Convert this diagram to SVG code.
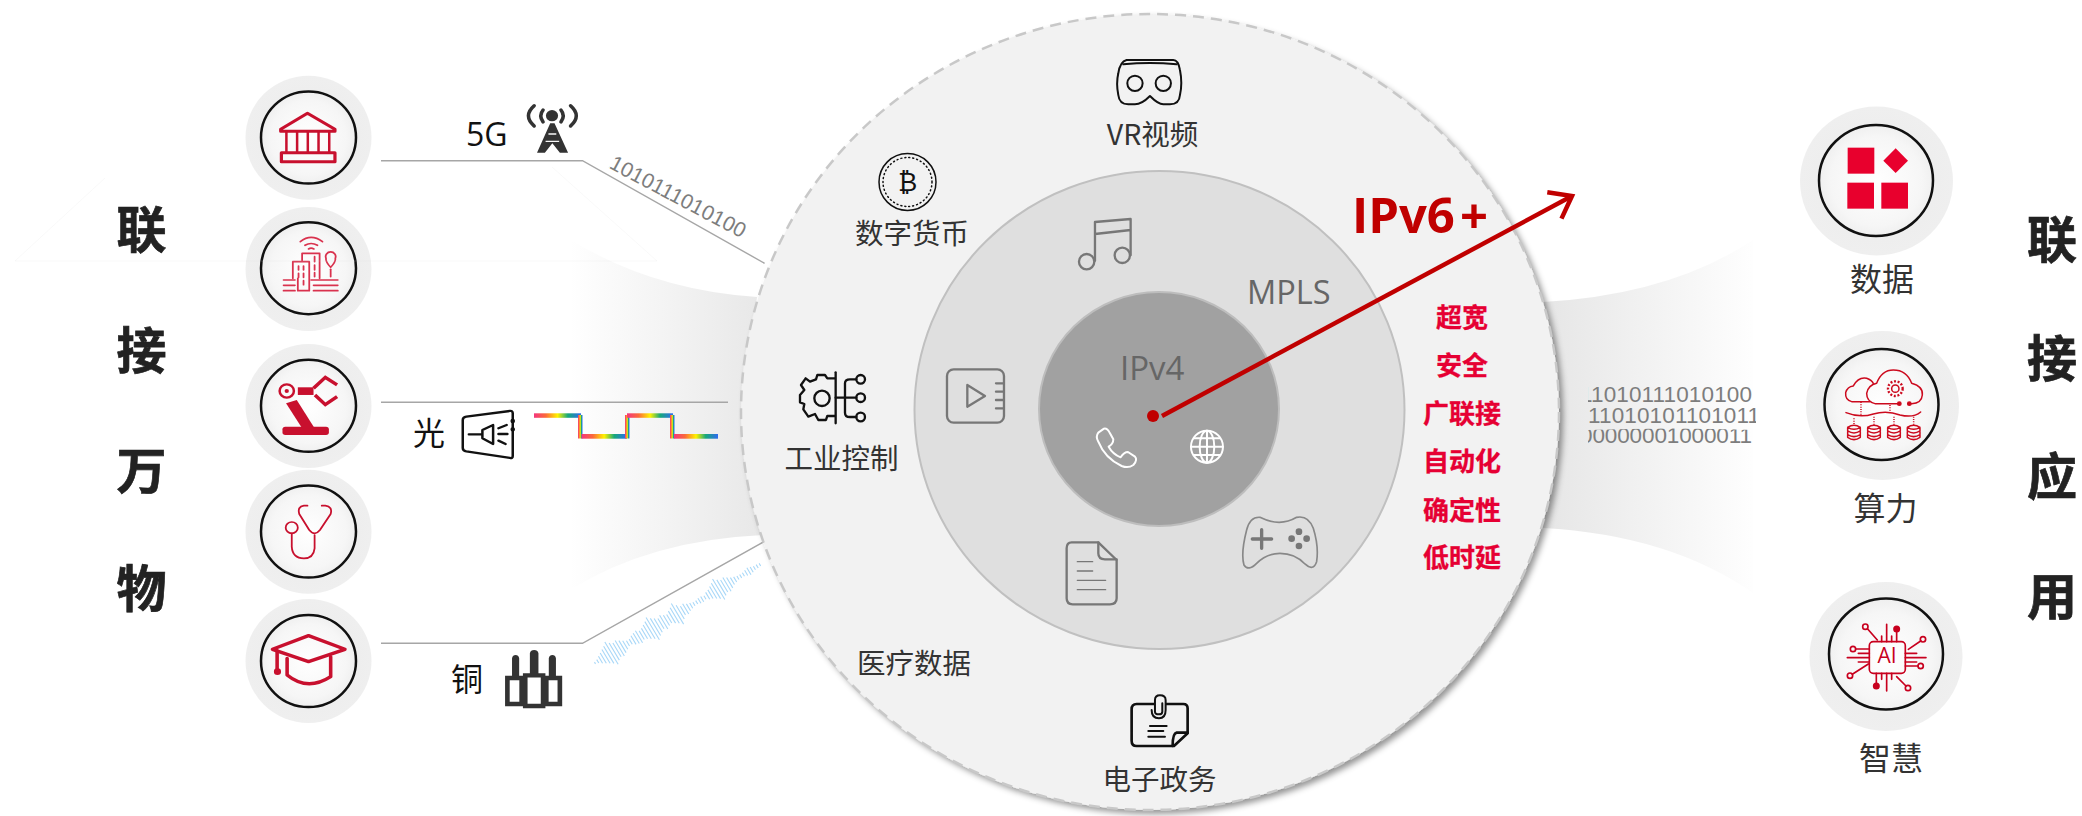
<svg xmlns="http://www.w3.org/2000/svg" width="2082" height="816" viewBox="0 0 2082 816">
<style>
text{font-family:"Noto Sans CJK SC","Noto Sans",sans-serif}
.lat{font-family:"Open Sans","Noto Sans CJK SC",sans-serif}
.big{font-size:50px;font-weight:700;fill:#222;stroke:#222;stroke-width:.7;text-anchor:middle}
.lb{font-size:28.5px;fill:#333;text-anchor:middle}
.rl{font-size:32px;fill:#333;text-anchor:middle}
.fe{font-size:26px;font-weight:700;fill:#e60033;stroke:#e60033;stroke-width:.3;text-anchor:middle}
.bin{font-family:"Liberation Sans",sans-serif;fill:#7d7d7d}
.halo{stroke:none}
.ring{fill:none;stroke:#111;stroke-width:2.5}
.conn{fill:none;stroke:#a6a6a6;stroke-width:1.4}
.ic{fill:none;stroke-linecap:round;stroke-linejoin:round}
.red{stroke:#c8102e}
.gr{stroke:#777}
.bk{stroke:#111}
.wave{fill:none;stroke:#a9d8f8;stroke-width:1.1}
</style>
<defs>
<radialGradient id="haloG"><stop offset="0" stop-color="#fff"/><stop offset="0.6" stop-color="#f6f6f6"/><stop offset="0.78" stop-color="#eeeeee"/><stop offset="1" stop-color="#efefef"/></radialGradient>
<linearGradient id="bandL" x1="570" x2="760" y1="0" y2="0" gradientUnits="userSpaceOnUse"><stop offset="0" stop-color="#fff"/><stop offset="1" stop-color="#e8e8e8"/></linearGradient>
<linearGradient id="bandR" x1="1545" x2="1760" y1="0" y2="0" gradientUnits="userSpaceOnUse"><stop offset="0" stop-color="#e6e6e6"/><stop offset="1" stop-color="#fff"/></linearGradient>
<linearGradient id="rb"><stop offset="0" stop-color="#f4367e"/><stop offset="0.25" stop-color="#fb6a3a"/><stop offset="0.5" stop-color="#fff200"/><stop offset="0.72" stop-color="#16a97a"/><stop offset="1" stop-color="#2f6bf0"/></linearGradient>
<filter id="sh" x="-5%" y="-5%" width="110%" height="110%"><feDropShadow dx="4" dy="4" stdDeviation="3" flood-color="#000" flood-opacity="0.42"/></filter>
<marker id="arr" markerUnits="userSpaceOnUse" markerWidth="30" markerHeight="40" refX="25" refY="20" orient="auto" overflow="visible"><path d="M5,5 L25,20 L5,35" fill="none" stroke="#c00000" stroke-width="4.5"/></marker>
<clipPath id="binC"><rect x="1588" y="382" width="168" height="44"/></clipPath>
<clipPath id="binC3"><path d="M1588,430 Q1670,427 1756,430 V446 H1588 Z"/></clipPath>
<clipPath id="binT"><rect x="2" y="-20" width="150" height="30"/></clipPath>
</defs>
<rect width="2082" height="816" fill="#fff"/>
<path id="bandLeft" d="M566,237 Q650,290 757,297 Q735,415 763,535 Q650,540 570,590 Z" fill="url(#bandL)"/>
<path id="bandRight" d="M1543,302 Q1670,295 1753,240 L1753,593 Q1670,535 1543,528 Z" fill="url(#bandR)"/>

<g id="connectors">
<path class="conn" d="M381,160.7 H582.5 L764.6,263.3"/>
<path class="conn" d="M381,402.3 H728"/>
<path class="conn" d="M381,643.3 H582.5 L764,541.7"/>
</g>

<g id="signals">
<g transform="translate(607,167) rotate(28)" clip-path="url(#binT)"><text class="bin" x="-9" y="0" font-size="21" textLength="161">11010111010100</text></g>
<g clip-path="url(#binC)">
<text class="bin" x="1580" y="402" font-size="22.5" textLength="172">11010111010100</text>
<text class="bin" x="1588" y="423" font-size="22.5" textLength="172">11010101101011</text>
</g>
<g clip-path="url(#binC3)"><text class="bin" x="1580" y="443" font-size="22.5" textLength="172">00000001000011</text></g>
<g id="rainbow" fill="url(#rb)">
<rect x="534" y="413.3" width="47" height="4.5"/><rect x="578" y="415" width="4.5" height="23.5"/><rect x="581.5" y="434" width="45.5" height="4.7"/><rect x="625" y="415" width="4.5" height="23.5"/><rect x="627" y="413.3" width="46" height="4.5"/><rect x="670" y="415" width="4.5" height="23.5"/><rect x="674" y="434" width="44" height="4.7"/>
</g>
<path transform="translate(595,663) rotate(-30.8)" class="wave" d="M0,-1V1M3.2,-2V2M6.4,-4V4M9.6,-6V6M12.8,-8V8M16,-10V10M19.2,-13V13M22.4,-10V10M25.6,-8V8M28.8,-9V9M32,-7V7M35.2,-5V5M38.4,-3V3M41.6,-3V3M44.8,-5V5M48,-6V6M51.2,-7V7M54.4,-5V5M57.6,-6V6M60.8,-8V8M64,-10V10M67.2,-13V13M70.4,-10V10M73.6,-8V8M76.8,-6V6M80,-8V8M83.2,-6V6M86.4,-5V5M89.6,-7V7M92.8,-9V9M96,-12V12M99.2,-8V8M102.4,-5V5M105.6,-6V6M108.8,-4V4M112,-3V3M115.2,-2V2M118.4,-2V2M121.6,-3V3M124.8,-3V3M128,-2V2M131.2,-4V4M134.4,-5V5M137.6,-7V7M140.8,-9V9M144,-12V12M147.2,-9V9M150.4,-7V7M153.6,-8V8M156.8,-6V6M160,-4V4M163.2,-3V3M166.4,-2V2M169.6,-2V2M172.8,-2V2M176,-3V3M179.2,-4V4M182.4,-3V3M185.6,-2V2M188.8,-2V2M192,-1.5V1.5"/>
</g>

<g id="left-nodes">
<g id="node-bank"><ellipse class="halo" cx="308.5" cy="137.7" rx="63" ry="62" fill="url(#haloG)"/><ellipse class="ring" cx="308.5" cy="137.5" rx="47.5" ry="46"/>
<g transform="translate(220,60) scale(.357,.3333)" class="ic red" stroke-width="9"><path d="M170,208 L245,160 L322,208 V214 H170 Z"/><path d="M186,214V275M216,214V275M246,214V275M276,214V275M306,214V275" stroke-width="7"/><path d="M172,278 H322 V305 H172 Z"/></g></g>
<g id="node-city"><ellipse class="halo" cx="308.5" cy="269" rx="63" ry="62" fill="url(#haloG)"/><ellipse class="ring" cx="308.5" cy="268.2" rx="47.5" ry="46"/>
<g transform="translate(220,60) scale(.357,.3333)" class="ic" stroke="#d9324e" stroke-width="5"><path d="M225,545 Q255,520 287,545M238,556 Q255,545 273,556M248,567 Q255,562 263,567"/><path d="M230,603 V580 H279 V655"/><path d="M204,655 V605 H250 V692 H218 V655"/><path d="M220,618V630M234,618V630M220,640V652M234,640V652M234,662V674M265,590V605M265,615V630M265,638V650" /><path d="M310,622 Q295,605 297,595 A14,14 0 1 1 323,595 Q325,605 310,622 Z"/><path d="M310,628V650"/><path d="M178,660H210M178,676H210M178,692H210M255,660H330M262,676H330M262,692H330"/></g></g>
<g id="node-robot"><ellipse class="halo" cx="308.5" cy="406" rx="63" ry="62" fill="url(#haloG)"/><ellipse class="ring" cx="308.5" cy="405.8" rx="47.5" ry="46"/>
<g transform="translate(220,60) scale(.357,.3333)" fill="#c8102e"><rect x="175" y="1100" width="130" height="25" rx="8"/><path d="M185,1030 L215,1020 L265,1105 L230,1105 Z"/><circle cx="187" cy="993" r="20" fill="none" stroke="#c8102e" stroke-width="7"/><circle cx="187" cy="993" r="6"/><path d="M218,982 H262 V1005 H218 Z"/><path d="M262,985 L295,952 L328,975M266,1005 L295,1034 L328,1010" fill="none" stroke="#c8102e" stroke-width="10"/></g></g>
<g id="node-medical"><ellipse class="halo" cx="308.5" cy="531.7" rx="63" ry="62" fill="url(#haloG)"/><ellipse class="ring" cx="308.5" cy="531.5" rx="47.5" ry="46"/>
<g transform="translate(220,440) scale(.357,.3333)" class="ic red" stroke-width="5"><path d="M245,197 H235 Q216,200 222,222 L250,270 Q265,290 280,270 L310,222 Q316,200 295,197 H285"/><path d="M265,285 V325 Q262,355 235,355 Q203,355 201,320 V280"/><circle cx="201" cy="263" r="17"/></g></g>
<g id="node-edu"><ellipse class="halo" cx="308.5" cy="661" rx="63" ry="62" fill="url(#haloG)"/><ellipse class="ring" cx="308.5" cy="661" rx="47.5" ry="46"/>
<g transform="translate(220,440) scale(.357,.3333)" class="ic red" stroke-width="10"><path d="M147,628 L248,587 L350,628 L248,665 Z"/><path d="M188,655 V705 Q245,755 310,710 V650"/><path d="M160,632 V695"/><circle cx="161" cy="695" r="5"/></g></g>
</g>

<g id="access-labels">
<text class="lat" x="466" y="146" font-size="32" fill="#111">5G</text>
<g id="icon-tower" transform="translate(220,60) scale(.357,.3333)"><circle cx="930" cy="167" r="17" fill="#333"/><path d="M905,150 Q892,167 905,186M955,150 Q968,167 955,186M880,137 Q848,167 880,198M982,137 Q1014,167 982,198" fill="none" stroke="#333" stroke-width="10" stroke-linecap="round"/><path d="M925,190 H937 L975,278 H952 L931,250 L910,278 H888 Z" fill="#333"/><path d="M920,222 H942M912,244 H950" stroke="#f8f8f8" stroke-width="4"/></g>
<text x="413" y="445" font-size="32" fill="#111">光</text>
<g id="icon-optical" transform="translate(220,60) scale(.357,.3333)" class="ic bk" stroke-width="7"><path d="M680,1080 Q680,1072 690,1070 L812,1053 Q820,1052 820,1060 V1188 Q820,1196 812,1194 L690,1174 Q680,1172 680,1164 Z"/><path d="M697,1123 H735M735,1110 L765,1095 V1152 L735,1135 Z M780,1105 L803,1095M780,1122 H805M780,1142 L800,1152"/><circle cx="820" cy="1083" r="3"/><circle cx="820" cy="1108" r="3"/></g>
<text x="451" y="691" font-size="32" fill="#111">铜</text>
<g id="icon-copper" transform="translate(220,440) scale(.357,.3333)"><path fill="none" stroke="#333" stroke-width="13" d="M805,714 H845 V792 H805 Z M855,706 H905 V798 H855 Z M914,714 H952 V792 H914 Z"/><path fill="#333" d="M818,712 V655 Q820,645 828,645 Q836,645 838,655 V712 Z M868,705 V640 Q870,630 880,630 Q890,630 892,640 V705 Z M921,712 V655 Q923,645 931,645 Q939,645 941,655 V712 Z"/></g>
</g>

<g id="outer-ring"><ellipse cx="1150" cy="412" rx="409" ry="398" fill="#f2f2f2" filter="url(#sh)"/><ellipse cx="1150" cy="412" rx="409" ry="398" fill="none" stroke="#c8c8c8" stroke-width="2.5" stroke-dasharray="11 7"/></g>
<g id="middle-ring"><ellipse cx="1159.5" cy="410" rx="245" ry="239" fill="#dfdfdf" stroke="#c0c0c0" stroke-width="2"/></g>
<g id="inner-ring"><ellipse cx="1159" cy="409" rx="120" ry="117" fill="#a1a1a1" stroke="#bdbdbd" stroke-width="2"/></g>

<g id="outer-apps">
<g id="app-vr"><g transform="translate(780,20) scale(.3333)" class="ic bk" stroke-width="6"><path d="M1040,120 H1180 Q1195,120 1200,150 Q1208,190 1200,225 Q1198,253 1170,253 H1150 Q1135,253 1110,228 Q1085,253 1065,253 H1045 Q1018,253 1015,225 Q1008,190 1015,160 Q1020,125 1040,120 Z"/><path d="M1030,133 Q1110,125 1190,133"/><circle cx="1065" cy="190" r="23"/><circle cx="1150" cy="190" r="23"/></g><text class="lb" x="1152.5" y="145">VR视频</text></g>
<g id="app-coin"><circle cx="907.5" cy="182" r="28.5" fill="none" stroke="#111" stroke-width="1.5"/><circle cx="907.5" cy="182" r="24.5" fill="none" stroke="#111" stroke-width="1.5" stroke-dasharray="1 3" stroke-linecap="round"/><text x="907.5" y="191" font-size="26" text-anchor="middle" style="font-family:'DejaVu Sans',sans-serif" fill="#111">₿</text><text class="lb" x="912" y="244">数字货币</text></g>
<g id="app-industry"><g transform="translate(740,340) scale(.3333)" class="ic bk" stroke-width="7"><circle cx="246" cy="175" r="23"/><path d="M285,115 H262 L255,105 H232 L228,118 L210,125 L197,115 L183,135 L193,150 L180,165 V187 L193,192 L190,208 L205,230 L225,222 L235,240 H258 L262,228 H285"/><path d="M287,97 V250"/><path d="M287,173 H349M315,173 V130 Q315,118 330,118 H349M315,173 V218 Q315,231 330,231 H349"/><circle cx="362" cy="118" r="13"/><circle cx="362" cy="173" r="13"/><circle cx="362" cy="231" r="13"/></g><text class="lb" x="841.5" y="469">工业控制</text></g>
<g id="app-medical"><text class="lb" x="914" y="674">医疗数据</text></g>
<g id="app-gov"><g transform="translate(820,620) scale(.3333)" class="ic bk" stroke-width="8"><path d="M950,252 H1090 Q1103,252 1103,265 V340 L1062,378 H950 Q935,378 935,362 V268 Q935,252 950,252 Z" /><path d="M1103,338 H1070 Q1058,340 1058,378"/><path d="M995,270 Q995,295 1017,295 Q1037,295 1037,270 V240 Q1037,226 1020,226 Q1005,226 1005,240 V275 Q1005,283 1017,283 Q1027,283 1027,275 V250" stroke-width="6" fill="#f2f2f2"/><path d="M990,318 H1040M985,333 H1030M985,350 H1035" stroke-width="6"/></g><text class="lb" x="1159.5" y="790">电子政务</text></g>
</g>

<g id="middle-apps">
<g id="app-music" transform="translate(780,20) scale(.3333)" class="ic gr" stroke-width="7"><circle cx="920" cy="725" r="23"/><circle cx="1027" cy="706" r="23"/><path d="M945,722 V606 L1052,597 V706M945,642 L1052,630"/></g>
<g id="app-video" transform="translate(920,340) scale(.3333)" class="ic gr" stroke-width="7"><rect x="81" y="88" width="171" height="160" rx="20"/><path d="M142,135 L195,168 L142,200 Z"/><path d="M228,130H250M228,155H250M228,180H250M228,205H250"/></g>
<g id="app-doc" transform="translate(920,340) scale(.3333)" class="ic gr" stroke-width="7"><path d="M455,607 H535 L590,660 V775 Q590,793 570,793 H458 Q440,793 440,775 V625 Q440,607 455,607 Z"/><path d="M535,607 V640 Q535,658 555,658 H590"/><path d="M472,665H518M472,693H518M472,721H557M472,749H557" stroke-width="4"/></g>
<g id="app-game" transform="translate(920,340) scale(.3333)"><path class="ic" stroke="#888" stroke-width="5" d="M1020,532 Q990,530 980,570 Q962,640 972,675 Q985,695 1010,670 Q1040,640 1080,640 Q1125,640 1155,672 Q1180,695 1190,665 Q1197,620 1180,565 Q1165,525 1130,532 Q1080,562 1020,532 Z"/><path d="M997,597 H1055M1025,569 V625" stroke="#777" stroke-width="10" stroke-linecap="round"/><g fill="#777"><circle cx="1137" cy="575" r="10"/><circle cx="1137" cy="618" r="10"/><circle cx="1115" cy="596" r="10"/><circle cx="1160" cy="596" r="10"/></g></g>
</g>

<g id="core-apps">
<g id="app-phone" transform="translate(920,340) scale(.3333)"><path class="ic" stroke="#fff" stroke-width="6" d="M535,278 L552,266 Q562,264 570,280 L580,298 Q580,312 566,320 Q578,342 602,352 Q612,336 624,336 L645,350 Q654,360 640,375 Q625,386 605,378 Q555,355 535,305 Q526,290 535,278 Z"/></g>
<g id="app-web" transform="translate(920,340) scale(.3333)" class="ic" stroke="#fff" stroke-width="6"><circle cx="861" cy="320" r="48"/><ellipse cx="861" cy="320" rx="22" ry="48"/><path d="M861,272 V368M814,320 H908M822,295 H900M822,345 H900"/></g>
</g>

<text class="lat" x="1352" y="233" font-size="49" font-weight="700" fill="#c00000">IPv6<tspan dx="5">+</tspan></text>
<text class="lat" x="1247" y="304" font-size="32.5" fill="#666">MPLS</text>
<text class="lat" x="1120" y="380" font-size="33" fill="#666">IPv4</text>

<g id="arrow-connector">
<circle cx="1153" cy="416" r="6" fill="#c00000"/>
<path d="M1162,416 L1572,196" fill="none" stroke="#c00000" stroke-width="4.5" marker-end="url(#arr)"/>
</g>

<g id="features">
<text class="fe" x="1462" y="327">超宽</text>
<text class="fe" x="1462" y="375">安全</text>
<text class="fe" x="1462" y="423">广联接</text>
<text class="fe" x="1462" y="471">自动化</text>
<text class="fe" x="1462" y="520">确定性</text>
<text class="fe" x="1462" y="567">低时延</text>
</g>

<g id="right-nodes">
<g id="node-data"><ellipse class="halo" cx="1876.5" cy="181" rx="76.5" ry="74.5" fill="url(#haloG)"/><ellipse class="ring" cx="1876" cy="180.5" rx="57" ry="55.5"/>
<g transform="translate(1760,90) scale(.3333)" fill="#e8002d"><rect x="263" y="173" width="80" height="78"/><rect x="262" y="278" width="80" height="78"/><rect x="364" y="278" width="80" height="78"/><path d="M407,175 L444,212 L407,249 L370,212 Z"/></g><text class="rl" x="1882" y="291">数据</text></g>
<g id="node-compute"><ellipse class="halo" cx="1882.5" cy="405.5" rx="76.5" ry="74.5" fill="url(#haloG)"/><ellipse class="ring" cx="1881.5" cy="404.5" rx="57" ry="55.5"/>
<g transform="translate(1760,90) scale(.3333)" class="ic" stroke="#cc0a1e" stroke-width="4.5"><path d="M330,935 H275 Q255,930 257,908 Q262,890 280,888 Q295,860 320,865 Q335,870 340,880"/><path d="M415,941 H345 Q320,935 320,910 Q325,885 350,880 Q365,840 400,840 Q440,840 455,880 Q490,890 487,915 Q485,940 455,941 H445"/><circle cx="418" cy="941" r="5" fill="#cc0a1e"/><circle cx="448" cy="941" r="5" fill="#cc0a1e"/><circle cx="406" cy="896" r="11"/><circle cx="406" cy="896" r="22" stroke-width="7" stroke-dasharray="6 5" stroke-linecap="butt"/><path d="M258,968 Q300,985 340,972 Q380,960 420,975 Q460,985 482,966"/><path stroke-dasharray="3 4" stroke-linecap="butt" d="M303,936V978M390,945V968M282,985V1005M342,980V1005M402,980V1005M461,980V1005"/><g id="db"><path d="M263,1012 Q282,1000 301,1012 V1042 Q282,1056 263,1042 Z M263,1012 Q282,1024 301,1012M263,1023 Q282,1035 301,1023M263,1034 Q282,1046 301,1034"/></g><use href="#db" x="60"/><use href="#db" x="120"/><use href="#db" x="179"/></g><text class="rl" x="1885.5" y="520">算力</text></g>
<g id="node-ai"><ellipse class="halo" cx="1886" cy="656.5" rx="76.5" ry="74.5" fill="url(#haloG)"/><ellipse class="ring" cx="1886" cy="654" rx="57" ry="55.5"/>
<g transform="translate(1760,560) scale(.3333)" class="ic" stroke="#c8001e" stroke-width="5"><rect x="328" y="245" width="108" height="95" rx="12"/><path d="M352,240 L323,207M410,216 V245M445,268 L482,243M287,267 H328M474,318 H436M277,343 L325,312M349,370 V340M438,378 L410,350M380,193 V245M365,228 V245M395,228 V245M380,340 V393M365,340 V358M395,340 V358M262,293 H328M295,280 H328M295,306 H328M436,293 H498M436,280 H470M436,306 H470"/><circle cx="316" cy="200" r="8"/><circle cx="489" cy="238" r="8"/><circle cx="279" cy="267" r="8"/><circle cx="482" cy="318" r="8"/><circle cx="270" cy="347" r="8"/><circle cx="444" cy="384" r="8"/><circle cx="410" cy="207" r="8" fill="#c8001e"/><circle cx="349" cy="378" r="8" fill="#c8001e"/></g>
<text x="1887" y="663" font-size="21" text-anchor="middle" class="lat" fill="#c8001e">AI</text><text class="rl" x="1891" y="770">智慧</text></g>
</g>

<path id="faint-trapezoid" d="M105,178 L15,261 H657 L552,167" fill="none" stroke="#dcdcdc" stroke-width="1" opacity="0.18"/>

<g id="left-title">
<text class="big" x="141.5" y="248">联</text><text class="big" x="141.5" y="369">接</text><text class="big" x="141.5" y="489">万</text><text class="big" x="141.5" y="607">物</text>
</g>
<g id="right-title">
<text class="big" x="2052" y="258">联</text><text class="big" x="2052" y="377">接</text><text class="big" x="2052" y="495">应</text><text class="big" x="2052" y="615">用</text>
</g>
</svg>
